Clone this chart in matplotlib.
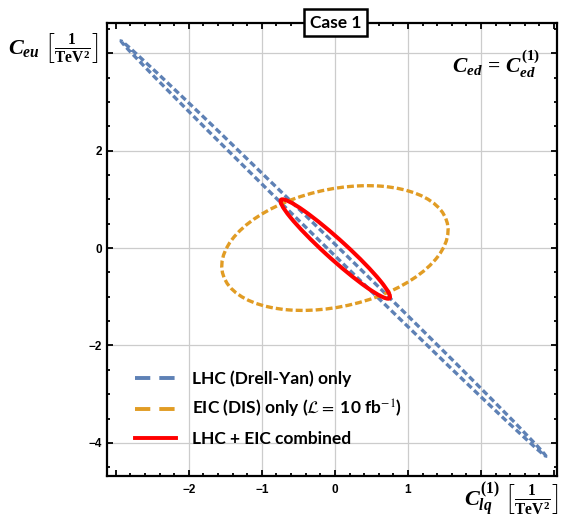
import numpy as np
import matplotlib
matplotlib.use("Agg")
import matplotlib.pyplot as plt
from matplotlib.patches import Ellipse
from matplotlib.lines import Line2D
from matplotlib.font_manager import FontProperties
from matplotlib.ticker import FixedLocator, MultipleLocator

plt.rcParams['lines.scale_dashes'] = False
plt.rcParams['mathtext.fontset'] = 'custom'
plt.rcParams['mathtext.it'] = 'Liberation Serif:italic:bold'
plt.rcParams['mathtext.rm'] = 'Liberation Serif:bold'
plt.rcParams['mathtext.bf'] = 'Liberation Serif:bold'

# ---- data (ellipse contours in data units) ----
labels = ["LHC (Drell-Yan) only",
          r"EIC (DIS) only ($\mathcal{L}=$ 10 fb$^{-1}$)",
          "LHC + EIC combined"]
centers_x = [-0.02, 0.0, 0.005]
centers_y = [-0.01, 0.0, -0.02]
major_len = [10.31, 3.29, 2.51]      # full length of major axis
minor_len = [0.135, 2.31, 0.325]     # full length of minor axis
angles_deg = [-55.7, 28.2, -54.0]

colors = ["#5E81B5", "#E19C24", "#FF0000"]
styles = [(0, (4.5, 2.4)), (0, (5.0, 2.2)), "-"]
widths = [2.4, 2.4, 2.9]

xticks_major = [-3, -2, -1, 0, 1, 2, 3]
xtick_labels = ["", "\u22122", "\u22121", "0", "1", "", ""]
yticks_major = [-4, -2, 0, 2, 4]
ytick_labels = ["\u22124", "\u22122", "0", "2", ""]
xgrid = [-2, -1, 0, 1, 2]
ygrid = [-4, -2, 0, 2, 4]

W, H = 561, 520
fig = plt.figure(figsize=(W / 100, H / 100), dpi=100)
ax = fig.add_axes([107 / W, 1 - 476 / H, (557 - 107) / W, (476 - 23) / H])
ax.set_xlim(-3.12, 3.04)
ax.set_ylim(-4.68, 4.62)

for g in xgrid:
    ax.axvline(g, color="#cccccc", lw=0.9, zorder=0)
for g in ygrid:
    ax.axhline(g, color="#cccccc", lw=0.9, zorder=0)

for i in range(3):
    e = Ellipse((centers_x[i], centers_y[i]), major_len[i], minor_len[i],
                angle=angles_deg[i], fill=False, edgecolor=colors[i],
                linestyle=styles[i], linewidth=widths[i], zorder=3 + (i == 2))
    ax.add_patch(e)

ax.xaxis.set_major_locator(FixedLocator(xticks_major))
ax.set_xticklabels(xtick_labels)
ax.yaxis.set_major_locator(FixedLocator(yticks_major))
ax.set_yticklabels(ytick_labels)
ax.xaxis.set_minor_locator(MultipleLocator(0.2))
ax.yaxis.set_minor_locator(MultipleLocator(0.5))
ax.tick_params(which="both", direction="in", top=True, right=True, width=1.3, color="black")
ax.tick_params(which="major", length=4.5)
ax.tick_params(which="minor", length=2.5)
ax.tick_params(axis="x", pad=5.5)
ax.tick_params(axis="y", pad=3.5)
for lab in ax.get_xticklabels() + ax.get_yticklabels():
    lab.set_fontfamily("Liberation Sans")
    lab.set_fontweight("bold")
    lab.set_fontsize(8.5)
for s in ax.spines.values():
    s.set_linewidth(1.6)

# legend
handles = [Line2D([], [], color=colors[0], lw=2.8, linestyle=(0, (11, 6.5))),
           Line2D([], [], color=colors[1], lw=2.8, linestyle=(0, (11, 6.5))),
           Line2D([], [], color=colors[2], lw=2.8, linestyle="-")]
lp = FontProperties(family="Lato", weight="bold", size=12.5, math_fontfamily="stix")
leg = ax.legend(handles, labels, loc="upper left", bbox_to_anchor=(126 / W, 1 - 362 / H),
                bbox_transform=fig.transFigure, frameon=False, prop=lp,
                handlelength=2.4, handletextpad=0.9, labelspacing=0.62, borderpad=0)

# title box
fig.text(335.5 / W, 1 - 22.5 / H, "Case 1", ha="center", va="center",
         fontfamily="Lato", fontweight="bold", fontsize=12.5,
         bbox=dict(boxstyle="square,pad=0.32", fc="white", ec="black", lw=1.8), zorder=10)

# math labels
fig.text(53 / W, 1 - 48 / H, r"$C_{eu}\ \left[\frac{1}{\mathrm{TeV}^{2}}\right]$",
         ha="center", va="center", fontsize=16)
fig.text(511 / W, 1 - 500 / H, r"$C_{lq}^{(1)}\ \left[\frac{1}{\mathrm{TeV}^{2}}\right]$",
         ha="center", va="center", fontsize=16)
fig.text(496 / W, 1 - 64 / H, r"$C_{ed}\,=\,C_{ed}^{(1)}$",
         ha="center", va="center", fontsize=15.5)

fig.savefig("out.png", dpi=100)
